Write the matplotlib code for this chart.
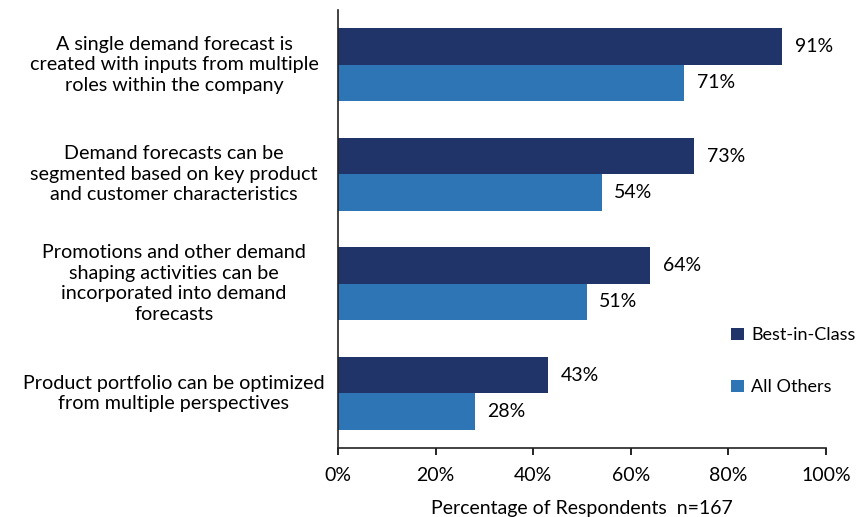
import matplotlib.pyplot as plt
from matplotlib.transforms import blended_transform_factory
import numpy as np

plt.rcParams['font.family'] = ['Lato', 'DejaVu Sans']

# ---- data
categories = [
    "A single demand forecast is\ncreated with inputs from multiple\nroles within the company",
    "Demand forecasts can be\nsegmented based on key product\nand customer characteristics",
    "Promotions and other demand\nshaping activities can be\nincorporated into demand\nforecasts",
    "Product portfolio can be optimized\nfrom multiple perspectives",
]
best_in_class = [91, 73, 64, 43]
all_others = [71, 54, 51, 28]
series_names = ["Best-in-Class", "All Others"]
xticks = [0, 20, 40, 60, 80, 100]

DARK = "#21346A"
LIGHT = "#2E75B6"
FS = 14

W, H = 856, 517
fig = plt.figure(figsize=(W/100, H/100), dpi=100)
ax = fig.add_axes([338/W, 1 - 448/H, (826-338)/W, (448-10)/H])

y = np.arange(len(categories))
h = 0.332
b1 = ax.barh(y - h/2, best_in_class, height=h, color=DARK, label=series_names[0])
b2 = ax.barh(y + h/2, all_others, height=h, color=LIGHT, label=series_names[1])

# value labels just past the bar ends
for bars, vals in ((b1, best_in_class), (b2, all_others)):
    for bar, v in zip(bars, vals):
        ax.annotate(f"{v}%", xy=(v, bar.get_y() + bar.get_height()/2),
                    xytext=(9, 0), textcoords="offset points",
                    va="center", ha="left", fontsize=FS, color="black")

ax.set_ylim(len(categories) - 0.5, -0.5)
ax.set_xlim(0, 100)
ax.set_yticks([])

# category labels, centred in the left margin
tr = blended_transform_factory(fig.transFigure, ax.transData)
for yi, lab in zip(y, categories):
    ax.text(174/W, yi, lab, transform=tr, ha="center", va="center",
            fontsize=14.2, linespacing=1.25, color="black")

ax.set_xticks(xticks)
ax.set_xticklabels([f"{t}%" for t in xticks], fontsize=FS)
ax.tick_params(axis="x", direction="out", length=5, width=1.2, pad=9)
ax.set_xlabel("Percentage of Respondents  n=167", fontsize=FS, labelpad=11)

for s in ("top", "right"):
    ax.spines[s].set_visible(False)
for s in ("left", "bottom"):
    ax.spines[s].set_linewidth(1.2)
    ax.spines[s].set_color("#222222")

ax.legend(loc="upper left", bbox_to_anchor=(724/W, 1 - 320/H),
          bbox_transform=fig.transFigure, frameon=False, fontsize=13,
          handlelength=0.7, handleheight=0.7, handletextpad=0.4,
          labelspacing=2.0, borderaxespad=0)

fig.savefig("out.png", dpi=100)
